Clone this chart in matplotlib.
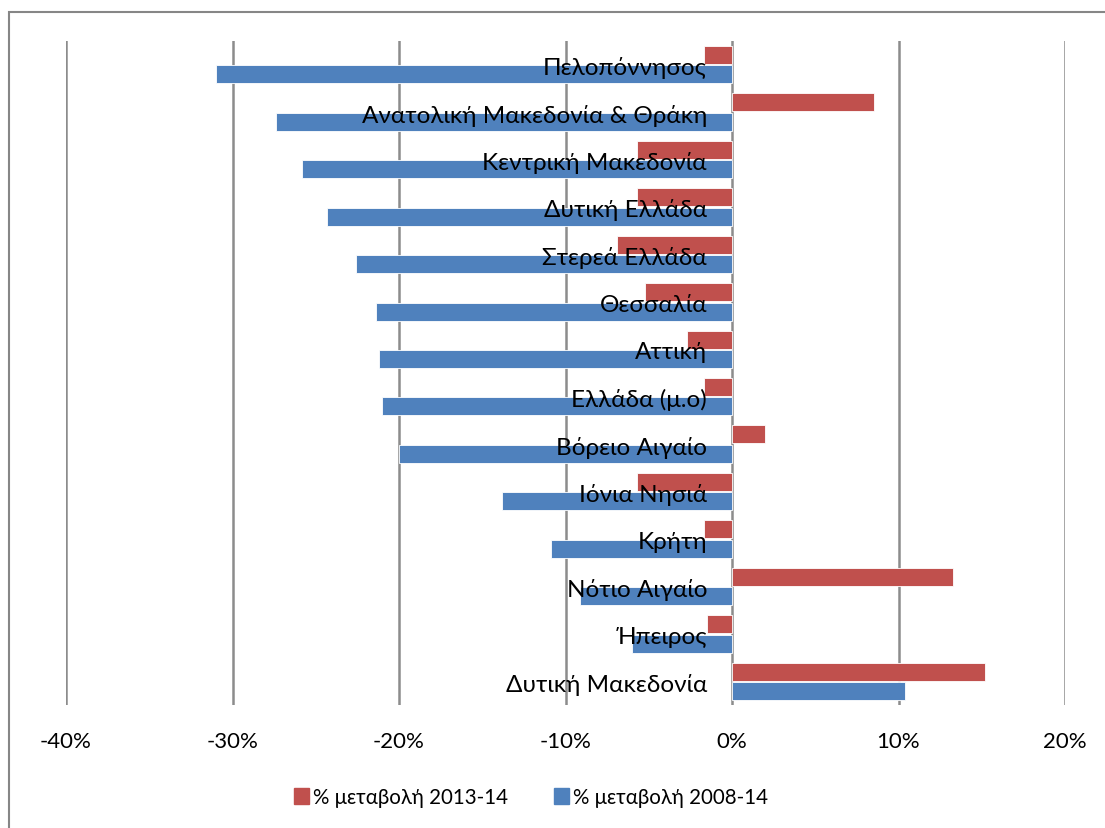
import numpy as np
import matplotlib.pyplot as plt
from matplotlib.patches import Patch, Rectangle

plt.rcParams['font.family'] = ['Lato', 'DejaVu Sans']

regions = ["Πελοπόννησος", "Ανατολική Μακεδονία & Θράκη", "Κεντρική Μακεδονία",
           "Δυτική Ελλάδα", "Στερεά Ελλάδα", "Θεσσαλία", "Αττική", "Ελλάδα (μ.ο)",
           "Βόρειο Αιγαίο", "Ιόνια Νησιά", "Κρήτη", "Νότιο Αιγαίο", "Ήπειρος",
           "Δυτική Μακεδονία"]
change_2013_14 = [-1.7, 8.5, -5.7, -5.7, -6.9, -5.2, -2.7, -1.7, 2.0, -5.7, -1.7, 13.3, -1.5, 15.2]
change_2008_14 = [-31.0, -27.4, -25.8, -24.3, -22.6, -21.4, -21.2, -21.0, -20.0, -13.8, -10.9, -9.1, -6.0, 10.4]
xticks = [-40, -30, -20, -10, 0, 10, 20]

red = "#c0504d"
blue = "#4f81bd"

fig = plt.figure(figsize=(11.05, 8.29), dpi=100)
ax = fig.add_axes([66 / 1105, 1 - 706 / 829, (1065 - 66) / 1105, (706 - 42) / 829])

y = np.arange(len(regions))
h = 0.38
ax.barh(y - 0.205, change_2013_14, height=h, color=red, edgecolor="white", linewidth=0.6, zorder=3)
ax.barh(y + 0.205, change_2008_14, height=h, color=blue, edgecolor="white", linewidth=0.6, zorder=3)

for t in xticks:
    ax.axvline(t, color="#8c8c8c", linewidth=1.8, zorder=1)

for i, name in enumerate(regions):
    ax.text(-1.5, i + 0.05, name, ha="right", va="center", fontsize=17.5, zorder=4)

ax.set_xlim(-40, 20)
ax.set_ylim(len(regions) - 0.5, -0.5)
ax.set_xticks(xticks)
ax.set_xticklabels([f"{t}%" for t in xticks], fontsize=16)
ax.set_yticks([])
ax.tick_params(axis="x", length=0, pad=19)
for s in ax.spines.values():
    s.set_visible(False)

handles = [Patch(color=red, label="% μεταβολή 2013-14"),
           Patch(color=blue, label="% μεταβολή 2008-14")]
fig.legend(handles=handles, loc="center", bbox_to_anchor=(531 / 1105, 1 - 798 / 829),
           ncol=2, frameon=False, fontsize=14.8, handlelength=0.75, handleheight=0.85,
           handletextpad=0.2, columnspacing=2.2)

fig.patches.append(Rectangle((9 / 1105, -0.1), 1.2, 1 - 13 / 829 + 0.1, transform=fig.transFigure,
                             fill=False, edgecolor="#868686", linewidth=1.5))

fig.savefig("out.png", dpi=100)
